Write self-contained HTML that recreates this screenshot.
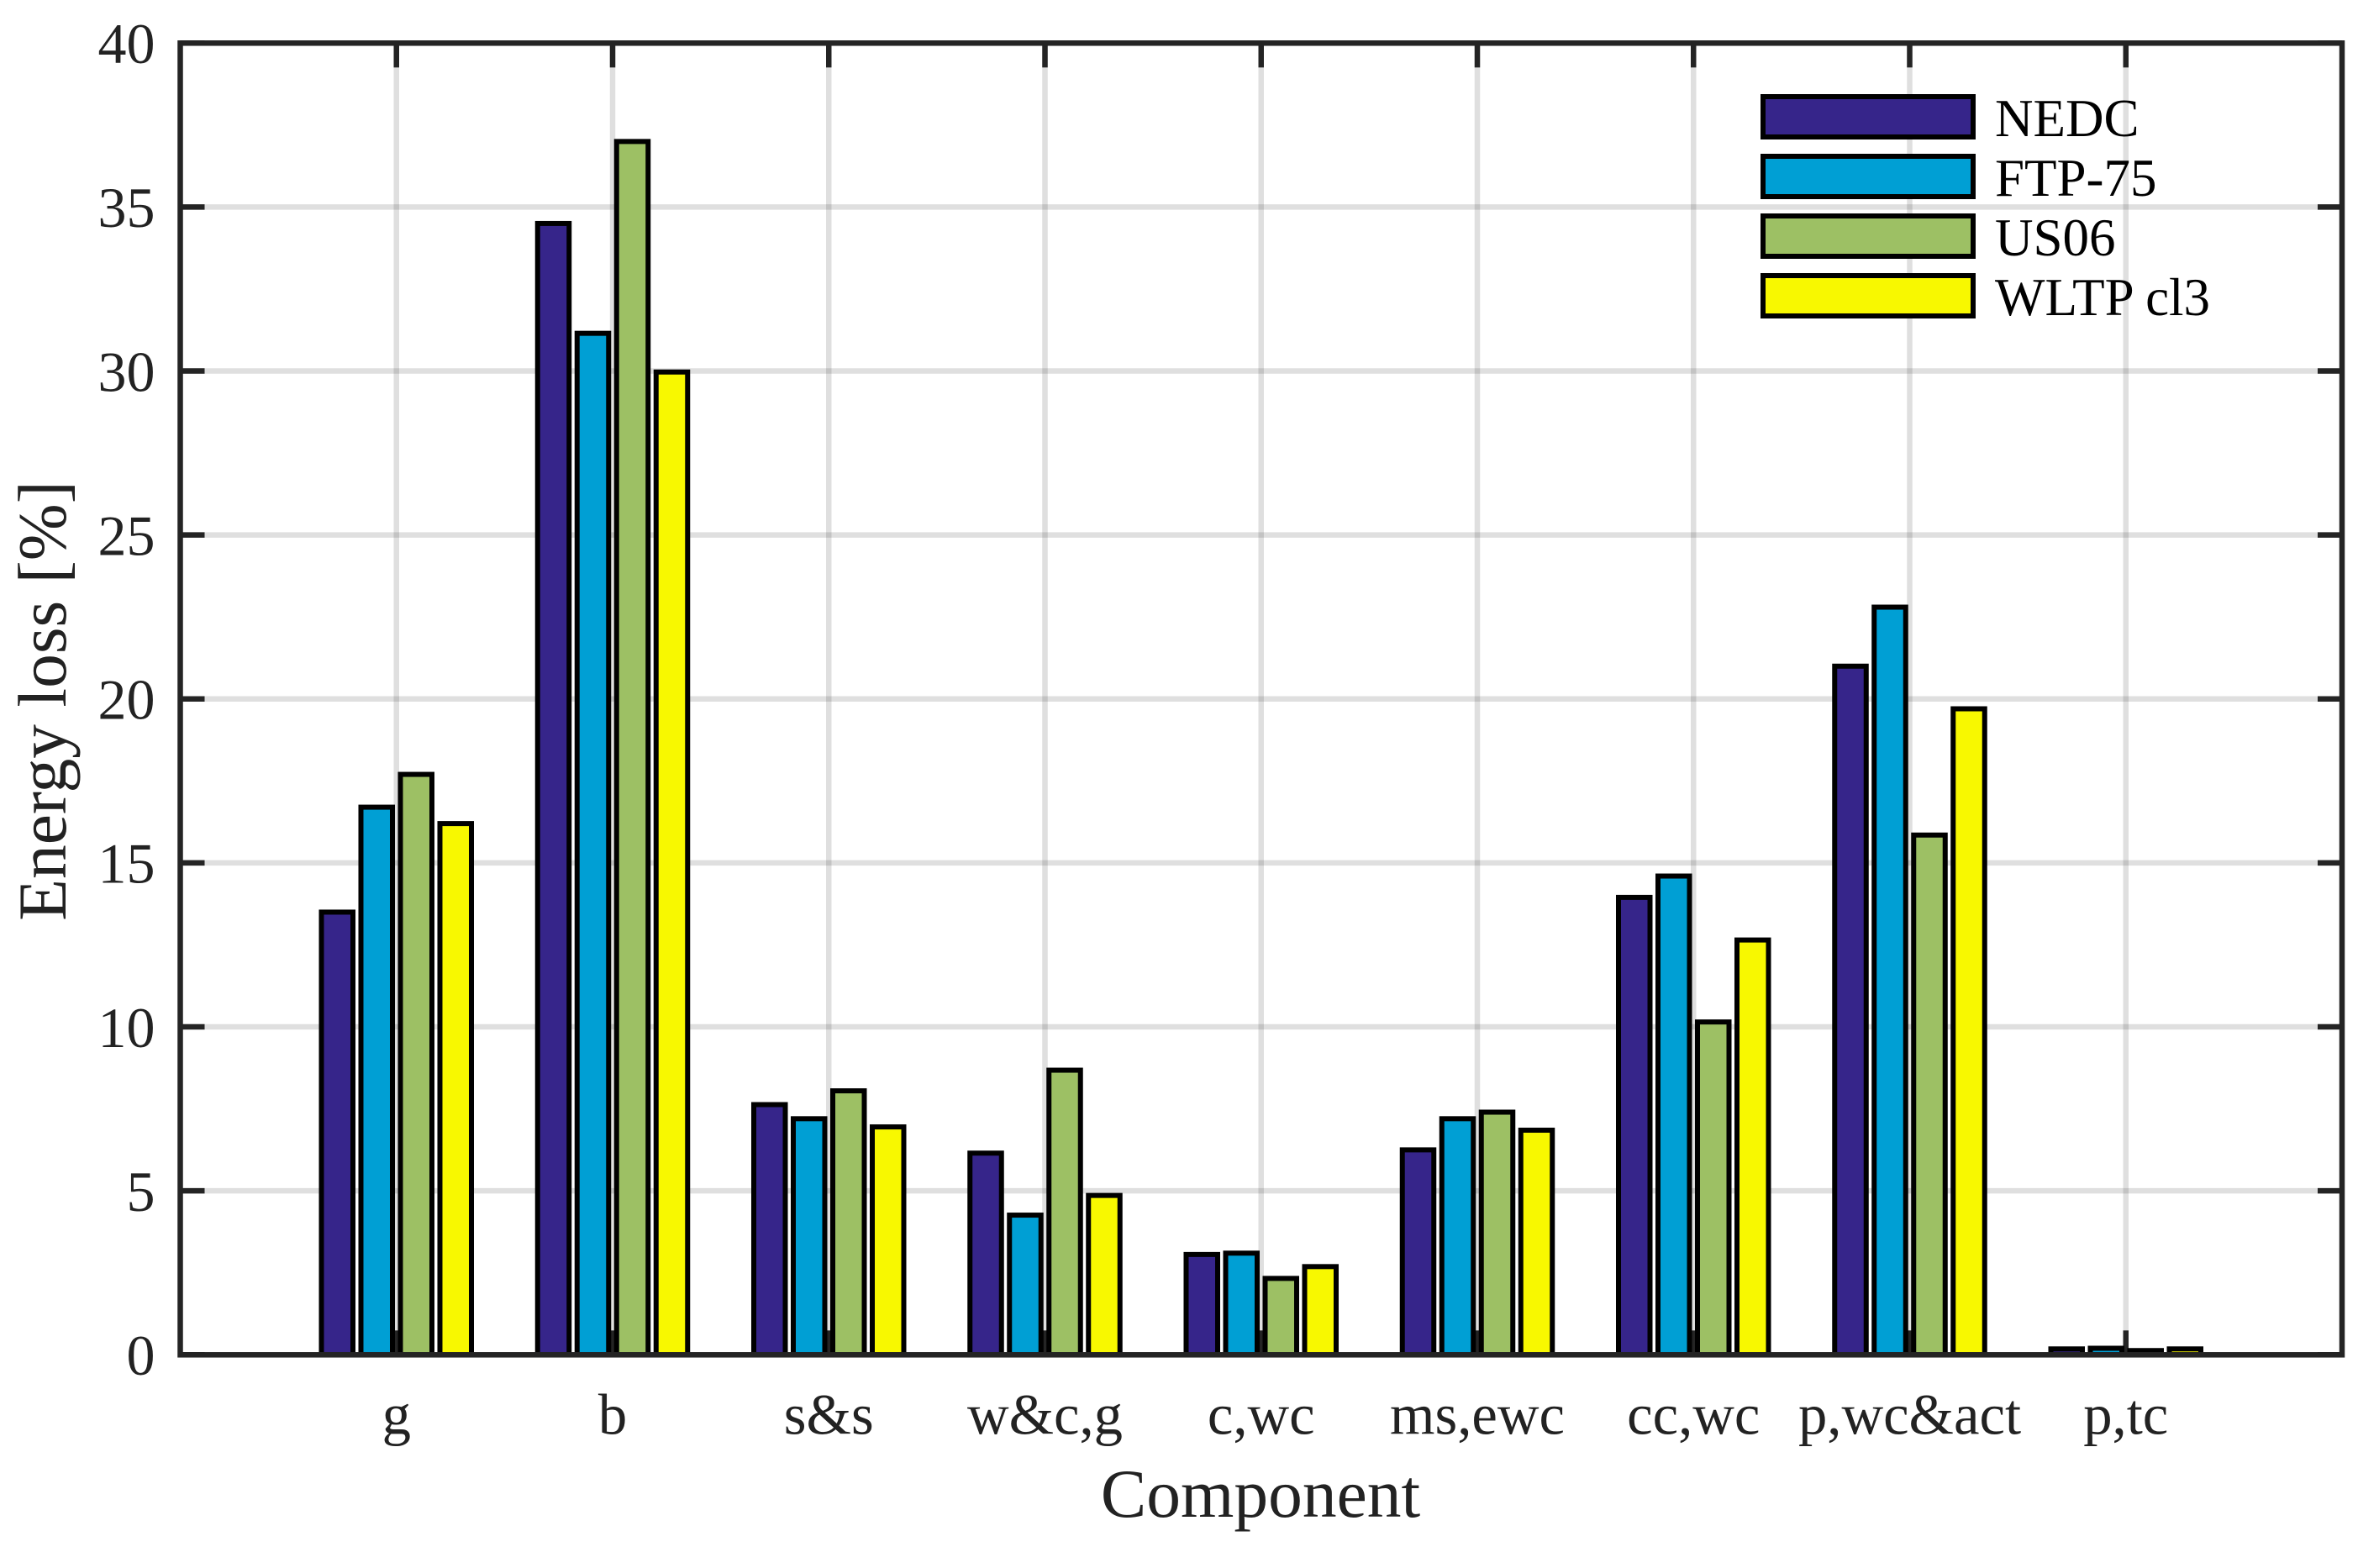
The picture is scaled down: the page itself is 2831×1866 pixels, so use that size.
<!DOCTYPE html>
<html lang="en">
<head>
<meta charset="utf-8">
<title>Energy loss by component</title>
<style>
html,body{margin:0;padding:0;background:#fff;}
svg{display:block;}
text{font-family:"Liberation Serif",serif;}
</style>
</head>
<body>
<svg id="chart" xmlns="http://www.w3.org/2000/svg" width="2831" height="1866" viewBox="0 0 2831 1866"></svg>
<script>
const categories = ["g", "b", "s&s", "w&c,g", "c,wc", "ms,ewc", "cc,wc", "p,wc&act", "p,tc"];
const seriesNames = ["NEDC", "FTP-75", "US06", "WLTP cl3"];
const seriesColors = ["#36258a", "#009fd4", "#9dc064", "#f8f800"];
const nedcValues = [13.5, 34.5, 7.63, 6.15, 3.06, 6.25, 13.95, 21.0, 0.18];
const ftpValues = [16.7, 31.15, 7.2, 4.26, 3.1, 7.2, 14.6, 22.8, 0.2];
const us06Values = [17.7, 37.0, 8.05, 8.68, 2.33, 7.4, 10.15, 15.85, 0.13];
const wltpValues = [16.2, 29.97, 6.95, 4.86, 2.69, 6.85, 12.65, 19.7, 0.18];
const seriesValues = [nedcValues, ftpValues, us06Values, wltpValues];
const yTickLabels = [0, 5, 10, 15, 20, 25, 30, 35, 40];

const svg = document.getElementById('chart');
const NS = 'http://www.w3.org/2000/svg';
const plot = {left: 214.5, right: 2787, top: 51.3, bottom: 1612.3};
const xMax = 10, yMax = 40;
const xScale = v => plot.left + (plot.right - plot.left) * v / xMax;
const yScale = v => plot.bottom - (plot.bottom - plot.top) * v / yMax;
const AXIS = '#242424', TEXT = '#222222';

function shape(tag, attrs, parent) {
  const el = document.createElementNS(NS, tag);
  for (const k in attrs) el.setAttribute(k, attrs[k]);
  (parent || svg).appendChild(el);
  return el;
}
function group(parent) {
  return shape('g', {}, parent);
}

/* grid */
const gridGroup = group();


categories.forEach((c, i) => {
  const x = xScale(i + 1);
  const line = shape('line', {x1: x, x2: x, y1: plot.top, y2: plot.bottom, stroke: '#000', 'stroke-width': 6.5, 'stroke-opacity': 0.125}, gridGroup);
  
  
});
yTickLabels.forEach(v => {
  if (v === 0 || v === yMax) return;
  const y = yScale(v);
  const line = shape('line', {x1: plot.left, x2: plot.right, y1: y, y2: y, stroke: '#000', 'stroke-width': 6.5, 'stroke-opacity': 0.125}, gridGroup);
  
  
});

/* ticks */
const tickGroup = group();


const tickLength = 29;
categories.forEach((c, i) => {
  const x = xScale(i + 1);
  const bottomTick = shape('line', {x1: x, x2: x, y1: plot.bottom, y2: plot.bottom - tickLength, stroke: AXIS, 'stroke-width': 6.5}, tickGroup);
  
  
  const topTick = shape('line', {x1: x, x2: x, y1: plot.top, y2: plot.top + tickLength, stroke: AXIS, 'stroke-width': 6.5}, tickGroup);
  
  
});
yTickLabels.forEach(v => {
  const y = yScale(v);
  const leftTick = shape('line', {x1: plot.left, x2: plot.left + tickLength, y1: y, y2: y, stroke: AXIS, 'stroke-width': 6.5}, tickGroup);
  
  
  const rightTick = shape('line', {x1: plot.right, x2: plot.right - tickLength, y1: y, y2: y, stroke: AXIS, 'stroke-width': 6.5}, tickGroup);
  
  
});

/* bars */
const barStep = 0.1827;
const barWidth = 0.1458;
const barsGroup = group();


seriesValues.forEach((values, s) => {
  const sg = group(barsGroup);
  
  
  values.forEach((v, i) => {
    const cx = xScale(i + 1 + (s - 1.5) * barStep);
    const w = xScale(barWidth) - xScale(0);
    const rect = shape('rect', {
      x: cx - w / 2, y: yScale(v), width: w, height: yScale(0) - yScale(v),
      fill: seriesColors[s], stroke: '#000', 'stroke-width': 6
    }, sg);
    
    
  });
});

/* axes box */
const axesBox = shape('rect', {x: plot.left, y: plot.top, width: plot.right - plot.left, height: plot.bottom - plot.top, fill: 'none', stroke: AXIS, 'stroke-width': 6.5});



/* tick labels */
yTickLabels.forEach(v => {
  const t = shape('text', {x: 184.5, y: yScale(v) + 23.7, 'text-anchor': 'end', 'font-size': 68, fill: TEXT});
  t.textContent = v;
  
  
});
categories.forEach((c, i) => {
  const t = shape('text', {x: xScale(i + 1), y: 1706.7, 'text-anchor': 'middle', 'font-size': 68.7, fill: TEXT});
  t.textContent = c;
  
  
});

/* axis titles */
const xTitle = shape('text', {x: 1500, y: 1805, 'text-anchor': 'middle', 'font-size': 81.5, fill: TEXT});
xTitle.textContent = 'Component';


const yTitle = shape('text', {x: 0, y: 0, 'text-anchor': 'middle', 'font-size': 81.5, fill: TEXT, transform: 'translate(78 834) rotate(-90)'});
yTitle.textContent = 'Energy loss [%]';



/* legend */
const legendGroup = group();


seriesNames.forEach((name, s) => {
  const top = 115 + s * 71;
  const entry = group(legendGroup);
  
  
  const swatch = shape('rect', {x: 2098, y: top, width: 250, height: 48, fill: seriesColors[s], stroke: '#000', 'stroke-width': 6}, entry);
  
  
  const label = shape('text', {x: 2374, y: top + 47, 'font-size': 63, fill: '#000'}, entry);
  label.textContent = name;
  
  
});
</script>
</body>
</html>
